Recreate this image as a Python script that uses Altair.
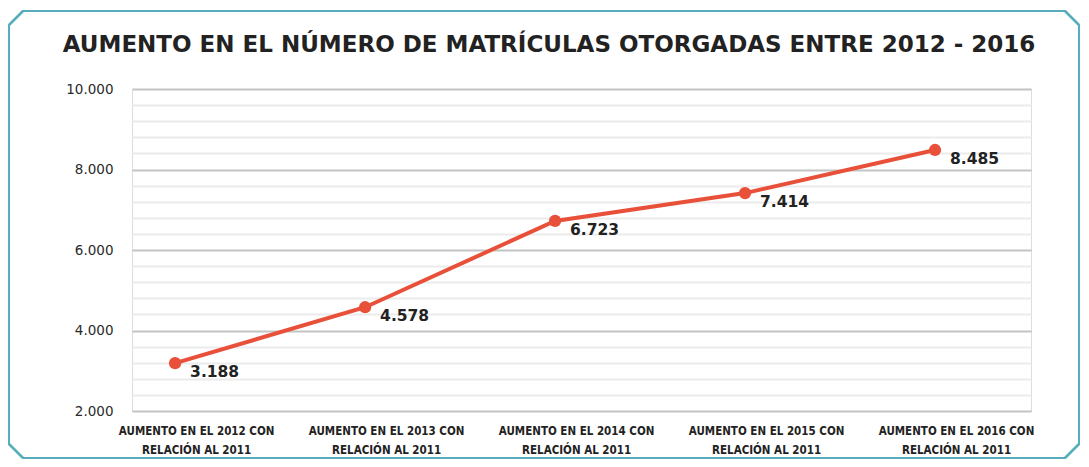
import altair as alt
import pandas as pd

categories = [
    "AUMENTO EN EL 2012 CON\nRELACIÓN AL 2011",
    "AUMENTO EN EL 2013 CON\nRELACIÓN AL 2011",
    "AUMENTO EN EL 2014 CON\nRELACIÓN AL 2011",
    "AUMENTO EN EL 2015 CON\nRELACIÓN AL 2011",
    "AUMENTO EN EL 2016 CON\nRELACIÓN AL 2011",
]
values = [3188, 4578, 6723, 7414, 8485]
y_ticks = list(range(2000, 10001, 400))
title_text = "AUMENTO EN EL NÚMERO DE MATRÍCULAS OTORGADAS ENTRE 2012 - 2016"

df = pd.DataFrame({"cat": categories, "v": values})

LINE = "#e8503a"
TEAL = "#56adbb"

x_enc = alt.X(
    "cat:N",
    sort=categories,
    title=None,
    scale=alt.Scale(type="point", padding=0.366, align=0.31),
    axis=alt.Axis(
        labelAngle=0,
        ticks=False,
        domain=False,
        grid=False,
        labelExpr="split(datum.label, '\\n')",
        labelFont="DejaVu Sans Condensed",
        labelFontWeight="bold",
        labelFontSize=11.5,
        labelLineHeight=19,
        labelColor="#222222",
        labelPadding=14,
        labelOffset=21,
        labelBaseline="top",
    ),
)
y_enc = alt.Y(
    "v:Q",
    title=None,
    scale=alt.Scale(domain=[2000, 10000], nice=False, zero=False),
    axis=alt.Axis(
        values=y_ticks,
        labelExpr="datum.value % 2000 === 0 ? replace(format(datum.value, ','), ',', '.') : ''",
        ticks=False,
        domain=False,
        grid=True,
        gridColor={"condition": {"test": "datum.value % 2000 === 0", "value": "#c3c3c3"}, "value": "#ebebeb"},
        gridWidth=2,
        labelFont="DejaVu Sans",
        labelFontSize=13.5,
        labelColor="#2a2a2a",
        labelPadding=19,
    ),
)

base = alt.Chart(df)
line = base.mark_line(color=LINE, strokeWidth=4).encode(x=x_enc, y=y_enc)
pts = base.mark_circle(color=LINE, size=150, opacity=1).encode(x=x_enc, y=y_enc)
labels = base.transform_calculate(
    lab="replace(format(datum.v, ','), ',', '.')"
).mark_text(
    align="left", baseline="middle", dx=15, dy=9,
    font="DejaVu Sans", fontWeight="bold", fontSize=15.5, color="#222222",
).encode(x=x_enc, y=y_enc, text="lab:N")

title = alt.Chart(pd.DataFrame({"t": [title_text]})).mark_text(
    align="center", baseline="alphabetic",
    font="DejaVu Sans", fontWeight="bold", fontSize=23, color="#222222",
).encode(x=alt.value(417), y=alt.value(-37), text="t:N")

# decorative frame (pixel positions relative to plot area)
L, R, T, B, C = -123, 947, -78, 369, 14
segs = [
    (L + C, T, R - C, T), (R - C, T, R, T + C), (R, T + C, R, B - C), (R, B - C, R - C, B),
    (R - C, B, L + C, B), (L + C, B, L, B - C), (L, B - C, L, T + C), (L, T + C, L + C, T),
]
frame = [
    alt.Chart(df).mark_rule(color=TEAL, strokeWidth=2, clip=False).encode(
        x=alt.value(a), y=alt.value(b), x2=alt.value(c), y2=alt.value(d)
    )
    for a, b, c, d in segs
]

chart = alt.layer(line, pts, labels, title, *frame).properties(
    width=899,
    height=322,
    autosize=alt.AutoSizeParams(type="none"),
    padding={"left": 124, "top": 81, "right": 50, "bottom": 48},
).configure_view(stroke=None).configure(background="white")

chart.save("out.html", embed_options={"renderer": "svg", "actions": False})
